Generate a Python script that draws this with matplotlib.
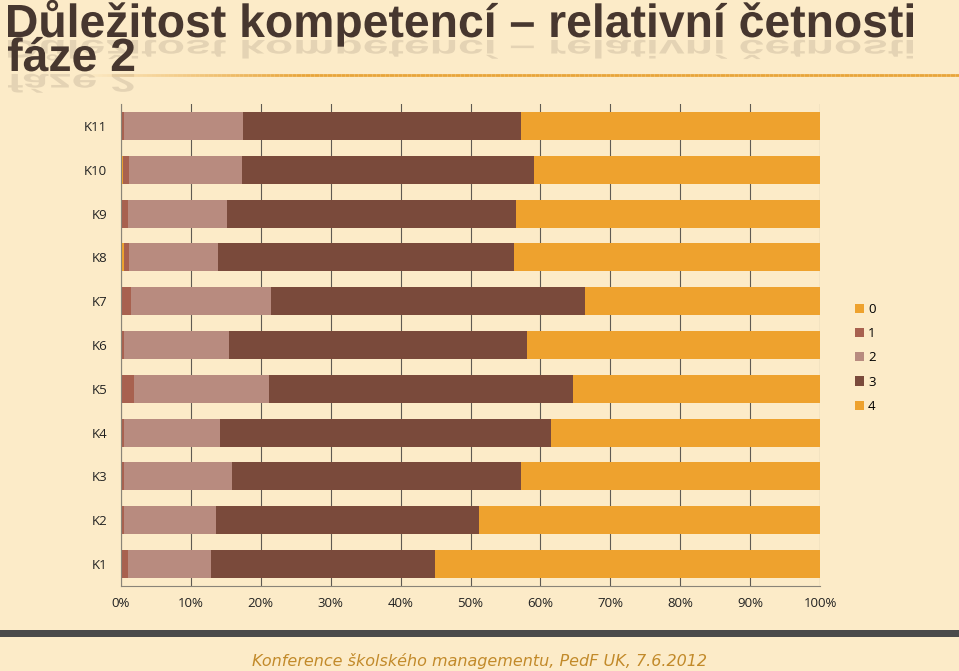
import matplotlib
matplotlib.use("Agg")
import matplotlib.pyplot as plt
import numpy as np
from matplotlib.textpath import TextPath
from matplotlib.font_manager import FontProperties
from matplotlib.patches import PathPatch
from matplotlib.transforms import Affine2D

# data (relative frequencies in %)
categories = ["K1", "K2", "K3", "K4", "K5", "K6", "K7", "K8", "K9", "K10", "K11"]
series = ["0", "1", "2", "3", "4"]
s0 = [0.0, 0.0, 0.0, 0.0, 0.0, 0.0, 0.0, 0.4, 0.0, 0.3, 0.0]
s1 = [1.0, 0.5, 0.5, 0.5, 1.9, 0.5, 1.4, 0.8, 1.0, 0.9, 0.5]
s2 = [11.9, 13.1, 15.4, 13.7, 19.3, 14.9, 20.1, 12.7, 14.1, 16.1, 16.9]
s3 = [32.0, 37.6, 41.3, 47.3, 43.5, 42.7, 44.9, 42.3, 41.4, 41.8, 39.8]
s4 = [55.1, 48.8, 42.8, 38.5, 35.3, 41.9, 33.6, 43.8, 43.5, 40.9, 42.8]
xticks = [0, 10, 20, 30, 40, 50, 60, 70, 80, 90, 100]

BG = "#FCEBC8"
COLORS = ["#EEA22E", "#A8614F", "#B88B7F", "#7A4A3B", "#EEA22E"]

fig = plt.figure(figsize=(9.59, 6.71), dpi=100, facecolor=BG)
ax = fig.add_axes([121 / 959, 85 / 671, 699 / 959, 482 / 671])
ax.set_facecolor(BG)

y = np.arange(len(categories))
left = np.zeros(len(categories))
for name, vals, col in zip(series, [s0, s1, s2, s3, s4], COLORS):
    vals = np.array(vals)
    ax.barh(y, vals, left=left, height=0.64, color=col, label=name, zorder=2)
    left += vals

ax.set_xlim(0, 100)
ax.set_ylim(-0.5, len(categories) - 0.5)
ax.set_yticks(y)
ax.set_yticklabels(categories)
ax.set_xticks(xticks)
ax.set_xticklabels([f"{t}%" for t in xticks])
ax.grid(axis="x", color="#5f5a52", linewidth=0.8, zorder=0)
for s in ["top", "right"]:
    ax.spines[s].set_visible(False)
for s in ["left", "bottom"]:
    ax.spines[s].set_color("#8a8478")
ax.tick_params(axis="y", length=0, pad=10, labelsize=9.5, labelcolor="#222222")
ax.tick_params(axis="x", length=0, pad=8, labelsize=9.5, labelcolor="#222222")
for lab in ax.get_xticklabels() + ax.get_yticklabels():
    lab.set_family("Open Sans")

leg = fig.legend(loc="upper left", bbox_to_anchor=(843 / 959, 1 - 291 / 671),
                 frameon=False, handlelength=0.7, handleheight=0.7,
                 handletextpad=0.3, labelspacing=0.85,
                 prop={"family": "Open Sans", "size": 9.5})

# title: bold, horizontally condensed, with a faint mirrored reflection
fax = fig.add_axes([0, 0, 1, 1], zorder=5)
fax.set_xlim(0, 959)
fax.set_ylim(0, 671)
fax.axis("off")

fp = FontProperties(family="Liberation Sans", weight="bold")
title_lines = ["Důležitost kompetencí – relativní četnosti", "fáze 2"]
baselines = [671 - 37, 671 - 71]
cap = TextPath((0, 0), "D", size=100, prop=fp).get_extents().height / 100
size = 32 / cap
w1 = TextPath((0, 0), title_lines[0], size=size, prop=fp).get_extents()
sx = 905 / w1.width
for line, by in zip(title_lines, baselines):
    tp = TextPath((0, 0), line, size=size, prop=fp)
    x0 = -tp.get_extents().x0 * sx + 8
    fax.add_patch(PathPatch(Affine2D().scale(sx, 1).translate(x0, by).transform_path(tp),
                            color="#47372F", lw=0))
    fax.add_patch(PathPatch(Affine2D().scale(sx, -0.55).translate(x0, by - 3).transform_path(tp),
                            color="#47372F", alpha=0.13, lw=0))

# orange rule under the title, fading in from the left
xs = np.linspace(80, 959, 200)
for i in range(len(xs) - 1):
    a = min(1.0, (xs[i] - 80) / 220)
    fax.plot(xs[i:i + 2], [671 - 75, 671 - 75], color="#E8A53A", lw=2, alpha=a,
             solid_capstyle="butt")

# dark band and footer
fax.add_patch(plt.Rectangle((0, 671 - 637), 959, 7, color="#4A4A4A", lw=0))
fax.text(480, 671 - 661, "Konference školského managementu, PedF UK, 7.6.2012",
         ha="center", va="center", fontsize=11.5, style="italic", color="#C28A2A")

fig.savefig("out.png", dpi=100, facecolor=BG)
